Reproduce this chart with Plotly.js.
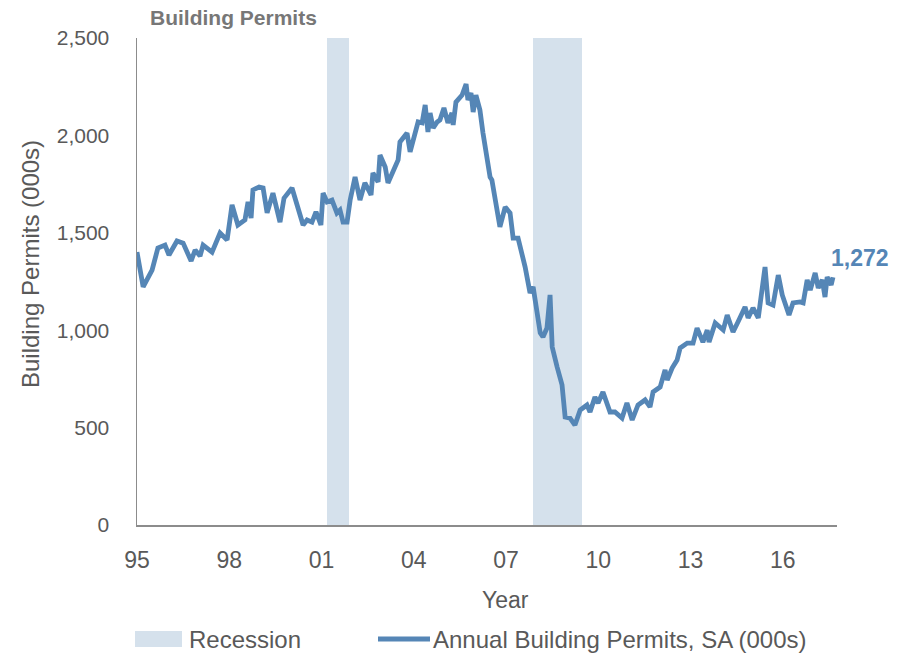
<!DOCTYPE html>
<html>
<head>
<meta charset="utf-8">
<script src="https://cdn.plot.ly/plotly-3.0.1.min.js"></script>
<style>html,body{margin:0;padding:0;background:#fff;}#chart{width:904px;height:655px;}</style>
</head>
<body>
<div id="chart"></div>
<script>
// Decimal year of each reading, and building permits (000s, SA annual rate)
var years = [1995.00,1995.20,1995.49,1995.68,1995.91,1996.04,1996.30,1996.50,1996.76,1996.89,
1997.05,1997.15,1997.44,1997.70,1997.93,1998.09,1998.28,1998.51,1998.61,1998.71,1998.77,1998.97,
1999.10,1999.23,1999.42,1999.65,1999.78,2000.04,2000.40,2000.53,2000.69,2000.82,2000.98,2001.05,
2001.18,2001.34,2001.50,2001.60,2001.70,2001.83,2001.93,2002.09,2002.25,2002.41,2002.61,2002.67,
2002.84,2002.90,2003.07,2003.16,2003.49,2003.55,2003.78,2003.88,2004.14,2004.27,2004.37,2004.46,
2004.53,2004.63,2004.76,2004.85,2004.98,2005.11,2005.24,2005.28,2005.37,2005.57,2005.70,2005.76,
2005.86,2005.93,2006.02,2006.15,2006.25,2006.48,2006.54,2006.80,2006.97,2007.13,2007.23,2007.39,
2007.62,2007.78,2007.88,2008.11,2008.20,2008.33,2008.43,2008.50,2008.66,2008.82,2008.92,2009.08,
2009.24,2009.41,2009.63,2009.73,2009.89,2009.99,2010.15,2010.38,2010.54,2010.77,2010.93,2011.10,
2011.29,2011.52,2011.68,2011.78,2012.01,2012.17,2012.24,2012.40,2012.56,2012.66,2012.89,2013.08,
2013.21,2013.40,2013.54,2013.60,2013.80,2014.06,2014.19,2014.38,2014.54,2014.77,2014.87,2015.03,
2015.20,2015.42,2015.52,2015.68,2015.85,2015.98,2016.20,2016.33,2016.56,2016.66,2016.79,2016.89,
2017.05,2017.15,2017.28,2017.37,2017.44,2017.57,2017.63];
var permits = [1401,1222,1309,1422,1437,1386,1458,1447,1355,1412,
1381,1437,1401,1499,1463,1643,1540,1566,1658,1576,1720,1735,
1730,1602,1704,1555,1678,1730,1540,1566,1555,1607,1540,1704,
1658,1668,1602,1617,1555,1555,1668,1786,1668,1756,1694,1807,
1761,1899,1838,1756,1874,1966,2012,1915,2069,2064,2156,2017,
2115,2038,2069,2079,2141,2064,2115,2053,2171,2207,2264,2182,
2218,2120,2207,2130,2012,1786,1771,1530,1632,1602,1473,1473,
1324,1191,1222,986,965,1011,1181,914,811,719,554,549,
513,590,616,580,657,626,683,580,580,549,626,539,
616,642,606,683,708,796,744,806,847,909,934,934,
1011,939,1001,939,1037,1001,1078,991,1042,1119,1063,1114,
1063,1324,1140,1129,1283,1181,1078,1140,1145,1140,1258,1206,
1294,1217,1258,1170,1273,1232,1272];

// Recessions (decimal years)
var recStart = [2001.18, 2007.88];
var recEnd   = [2001.90, 2009.47];
var recTop   = [2500, 2500];

var xTickVals = [1995, 1998, 2001, 2004, 2007, 2010, 2013, 2016];
var xTickText = ["95", "98", "01", "04", "07", "10", "13", "16"];
var yTickVals = [0, 500, 1000, 1500, 2000, 2500];
var yTickText = ["0", "500", "1,000", "1,500", "2,000", "2,500"];

var lastLabel = "1,272";

var lineColor = "#5586b6";
var recColor = "#d5e1ec";
var grey = "#595959";
var narrow = "Liberation Sans Narrow, Arial Narrow, Liberation Sans, Arial, sans-serif";
var sans = "Liberation Sans, Arial, sans-serif";

var recCenters = recStart.map(function(s, i){ return (s + recEnd[i]) / 2; });
var recWidths = recStart.map(function(s, i){ return recEnd[i] - s; });

var traces = [
  {
    type: "bar", name: "Recession",
    x: recCenters, y: recTop, width: recWidths,
    marker: {color: recColor, line: {width: 0}},
    showlegend: false, hoverinfo: "skip"
  },
  {
    type: "scatter", mode: "lines", name: "Annual Building Permits, SA (000s)",
    x: years, y: permits,
    line: {color: lineColor, width: 4.8, shape: "linear"},
    showlegend: false
  }
];

var pxX = function(p){ return (p - 137) / 700; };
var pxY = function(p){ return (525 - p) / 487; };

var layout = {
  width: 904, height: 655,
  margin: {l: 137, r: 67, t: 38, b: 130},
  paper_bgcolor: "#ffffff", plot_bgcolor: "#ffffff",
  showlegend: false,
  bargap: 0,
  title: {
    text: "<b>Building Permits</b>",
    font: {family: sans, size: 21, color: "#777777"},
    x: pxX(150), xref: "paper", xanchor: "left",
    y: 1 - 18/655, yref: "container", yanchor: "middle"
  },
  xaxis: {
    range: [1995, 2017.76],
    tickmode: "array", tickvals: xTickVals, ticktext: xTickText,
    showgrid: false, zeroline: false,
    showline: true, linecolor: "#8c8c8c", linewidth: 1.5,
    ticks: "", ticklabelstandoff: 14,
    tickfont: {family: narrow, size: 23, color: grey}
  },
  yaxis: {
    range: [0, 2500],
    tickmode: "array", tickvals: yTickVals, ticktext: yTickText,
    showgrid: false, zeroline: false,
    showline: true, linecolor: "#8c8c8c", linewidth: 1.5,
    ticks: "", ticklabelstandoff: 22,
    tickfont: {family: sans, size: 21, color: grey}
  },
  shapes: [
    {type: "rect", xref: "paper", yref: "paper",
     x0: pxX(135), x1: pxX(182), y0: pxY(647), y1: pxY(631),
     fillcolor: recColor, line: {width: 0}},
    {type: "line", xref: "paper", yref: "paper",
     x0: pxX(378), x1: pxX(430), y0: pxY(639), y1: pxY(639),
     line: {color: lineColor, width: 5}}
  ],
  annotations: [
    {text: "Year", xref: "paper", yref: "paper", x: pxX(505), y: pxY(600),
     xanchor: "center", yanchor: "middle", showarrow: false,
     font: {family: narrow, size: 23, color: grey}},
    {text: "Building Permits (000s)", xref: "paper", yref: "paper", x: pxX(30), y: pxY(264),
     xanchor: "center", yanchor: "middle", textangle: -90, showarrow: false,
     font: {family: sans, size: 24, color: grey}},
    {text: "<b>" + lastLabel + "</b>", x: years[years.length-1], y: permits[permits.length-1],
     xanchor: "left", yanchor: "middle", xshift: -4, yshift: 19, showarrow: false,
     font: {family: sans, size: 23, color: lineColor}},
    {text: "Recession", xref: "paper", yref: "paper", x: pxX(187), y: pxY(639),
     xanchor: "left", yanchor: "middle", showarrow: false,
     font: {family: narrow, size: 24, color: grey}},
    {text: "Annual Building Permits, SA (000s)", xref: "paper", yref: "paper", x: pxX(431), y: pxY(639),
     xanchor: "left", yanchor: "middle", showarrow: false,
     font: {family: narrow, size: 24, color: grey}}
  ]
};

Plotly.newPlot("chart", traces, layout, {displayModeBar: false, staticPlot: true});
</script>
</body>
</html>
